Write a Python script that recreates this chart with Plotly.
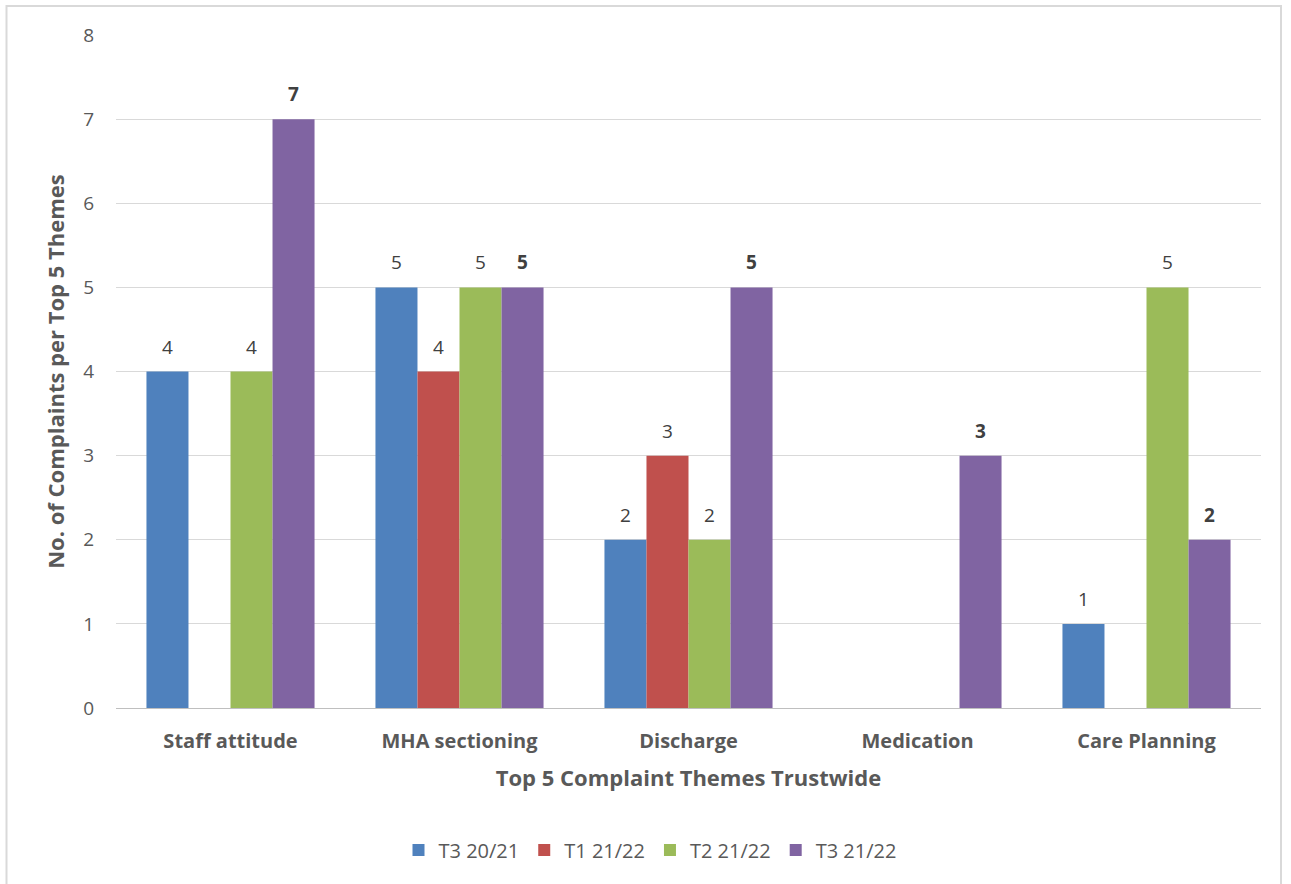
import plotly.graph_objects as go

themes = ["Staff attitude", "MHA sectioning", "Discharge", "Medication", "Care Planning"]
series_names = ["T3 20/21", "T1 21/22", "T2 21/22", "T3 21/22"]
t3_2021 = [4, 5, 2, None, 1]
t1_2122 = [None, 4, 3, None, None]
t2_2122 = [4, 5, 2, None, 5]
t3_2122 = [7, 5, 5, 3, 2]
y_ticks = [0, 1, 2, 3, 4, 5, 6, 7, 8]

colors = ["#4f81bd", "#c0504d", "#9bbb59", "#8064a2"]
all_values = [t3_2021, t1_2122, t2_2122, t3_2122]

FONT = "Open Sans"
BARGAP = 0.266
n_series = len(series_names)
bar_w = (1 - BARGAP) / n_series

fig = go.Figure()
annotations = []
for j, (name, vals, col) in enumerate(zip(series_names, all_values, colors)):
    latest = j == n_series - 1
    fig.add_trace(go.Bar(
        name=name, x=themes, y=vals,
        marker=dict(color=col, line=dict(width=0)),
    ))
    # value labels above each bar, placed at the bar's slot within its group
    for i, v in enumerate(vals):
        if v is None:
            continue
        annotations.append(dict(
            x=i + (j - (n_series - 1) / 2) * bar_w, y=v, xref="x", yref="y",
            text=f"<b>{v}</b>" if latest else str(v),
            showarrow=False, yanchor="bottom", yshift=10,
            font=dict(family=FONT, size=19, color="#404040"),
        ))

W, H = 1291, 884
L, R, T, B = 116, 30, 35, 176
pw, ph = W - L - R, H - T - B

def px_x(x):
    return (x - L) / pw

def px_y(y):
    return (H - B - y) / ph

fig.update_layout(
    width=W, height=H,
    margin=dict(l=L, r=R, t=T, b=B),
    paper_bgcolor="white", plot_bgcolor="white",
    barmode="group", bargap=BARGAP, bargroupgap=0,
    font=dict(family=FONT, color="#595959"),
    showlegend=True,
    legend=dict(orientation="h", x=px_x(650), xanchor="center", y=px_y(850), yanchor="middle",
                font=dict(family=FONT, size=20, color="#595959"),
                traceorder="normal", itemwidth=30),
    xaxis=dict(
        showgrid=False, ticks="", showline=False, ticklabelstandoff=19,
        tickfont=dict(family=FONT, size=20, color="#595959", weight="bold"),
        title=dict(text="Top 5 Complaint Themes Trustwide", standoff=17,
                   font=dict(family=FONT, size=22, color="#595959", weight="bold")),
    ),
    yaxis=dict(
        range=[0, 8], tickvals=y_ticks, showgrid=True, gridcolor="#d9d9d9", gridwidth=1,
        zeroline=True, zerolinecolor="#bfbfbf", zerolinewidth=1,
        showline=False, ticks="", ticklabelstandoff=21,
        tickfont=dict(family=FONT, size=19, color="#595959"),
        title=dict(text="No. of Complaints per Top 5 Themes", standoff=12,
                   font=dict(family=FONT, size=22, color="#595959", weight="bold")),
    ),
    annotations=annotations,
    shapes=[dict(type="rect", xref="paper", yref="paper",
                 x0=px_x(6.5), x1=px_x(1281), y0=px_y(900), y1=px_y(6),
                 line=dict(color="#d9d9d9", width=2), fillcolor="rgba(0,0,0,0)", layer="below")],
)

fig.write_html("out.html")
